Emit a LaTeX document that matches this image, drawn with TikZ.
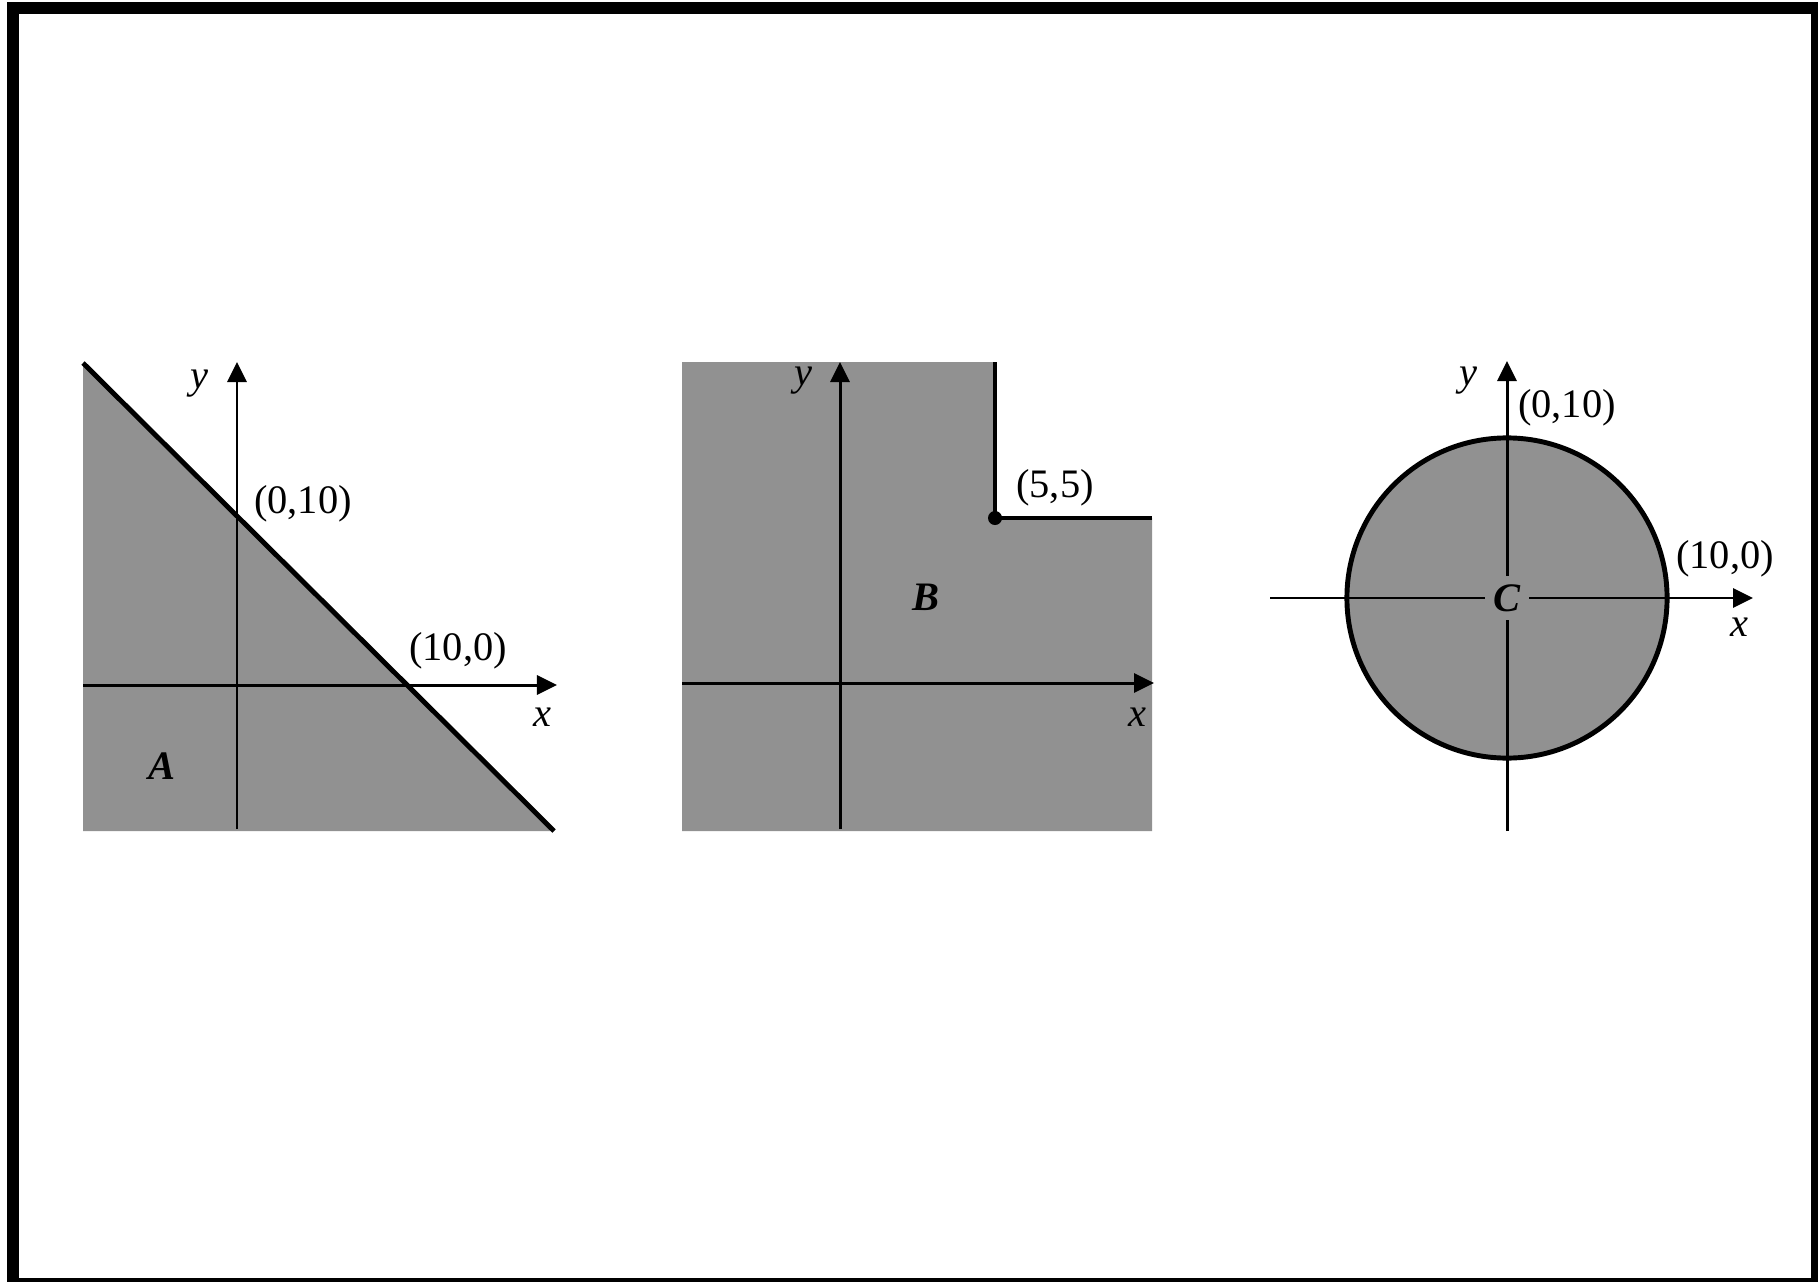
\documentclass[tikz,border=0pt]{standalone}
\usepackage{fontspec}
\setmainfont{Liberation Serif}
\usetikzlibrary{arrows.meta}
\definecolor{halftone}{rgb}{0.57, 0.57, 0.57}
\tikzset{
  region/.style={
    fill=halftone
  },
  rim/.style={
    line width=1.4pt,
    black
  },
  axis/.style={
    -{Triangle[length=2mm, width=1.9mm]},
    line width=.85pt
  },
  lbl/.style={
    font=\fontsize{11.5}{13}\selectfont,
    inner sep=1pt
  },
  tag/.style={
    font=\fontsize{11.5}{13}\selectfont\bfseries\itshape,
    inner sep=1pt
  }
}

\begin{document}
\begin{tikzpicture}[x=.01cm, y=-.01cm]
\useasboundingbox (0,0) rectangle (1818,1282);
% frame
\fill[black] (7,2) rectangle (1818,1282);
\fill[white] (19,14) rectangle (1811,1278);

% set A
\coordinate (topA) at (83,363);
\coordinate (endA) at (554,831);
\fill[region] (topA) -- (endA) -- (83,831) -- cycle;
\coordinate (xlA) at (83,685);
\coordinate (xrA) at (557,685);
\coordinate (ybA) at (237,829);
\coordinate (ytA) at (237,362);
\draw[axis] (xlA) -- (xrA);
\draw[axis] (ybA) -- (ytA);
\draw[rim] (topA) -- (endA);
\node[lbl] (yA) at (199,384) {\textit{y}};
\node[lbl] (xA) at (542,717) {\textit{x}};
\node[lbl] (pA1) at (303,504) {(0,10)};
\node[lbl] (pA2) at (458,651) {(10,0)};
\node[tag] (nameA) at (162,766) {A};

% set B
\coordinate (cornerB) at (995,518);
\fill[region] (682,362) -- (995,362) -- (cornerB) -- (1152,518) -- (1152,831) -- (682,831) -- cycle;
\coordinate (xlB) at (682,683);
\coordinate (xrB) at (1154,683);
\coordinate (ybB) at (840,829);
\coordinate (ytB) at (840,362);
\draw[axis] (xlB) -- (xrB);
\draw[axis] (ybB) -- (ytB);
\draw[rim] (995,362) -- (cornerB) -- (1152,518);
\fill (cornerB) circle[radius=.07cm];
\node[lbl] (yB) at (803,381) {\textit{y}};
\node[lbl] (xB) at (1137,717) {\textit{x}};
\node[lbl] (pB) at (1055,488) {(5,5)};
\node[tag] (nameB) at (926,597) {B};

% set C
\coordinate (oC) at (1507,598);
\fill[region] (oC) circle[radius=1.6cm];
\coordinate (xlC) at (1270,598);
\coordinate (xrC) at (1753,598);
\coordinate (ybC) at (1507,831);
\coordinate (ytC) at (1507,361);
\draw[axis] (xlC) -- (xrC);
\draw[axis] (ybC) -- (ytC);
\node[tag, fill=halftone, minimum size=.44cm, inner sep=0pt] (nameC) at (oC) {C};
\draw[rim] (oC) circle[radius=1.6cm];
\node[lbl] (yC) at (1468,381) {\textit{y}};
\node[lbl] (xC) at (1739,627) {\textit{x}};
\node[lbl] (pC1) at (1567,408) {(0,10)};
\node[lbl] (pC2) at (1725,559) {(10,0)};
\end{tikzpicture}
\end{document}
